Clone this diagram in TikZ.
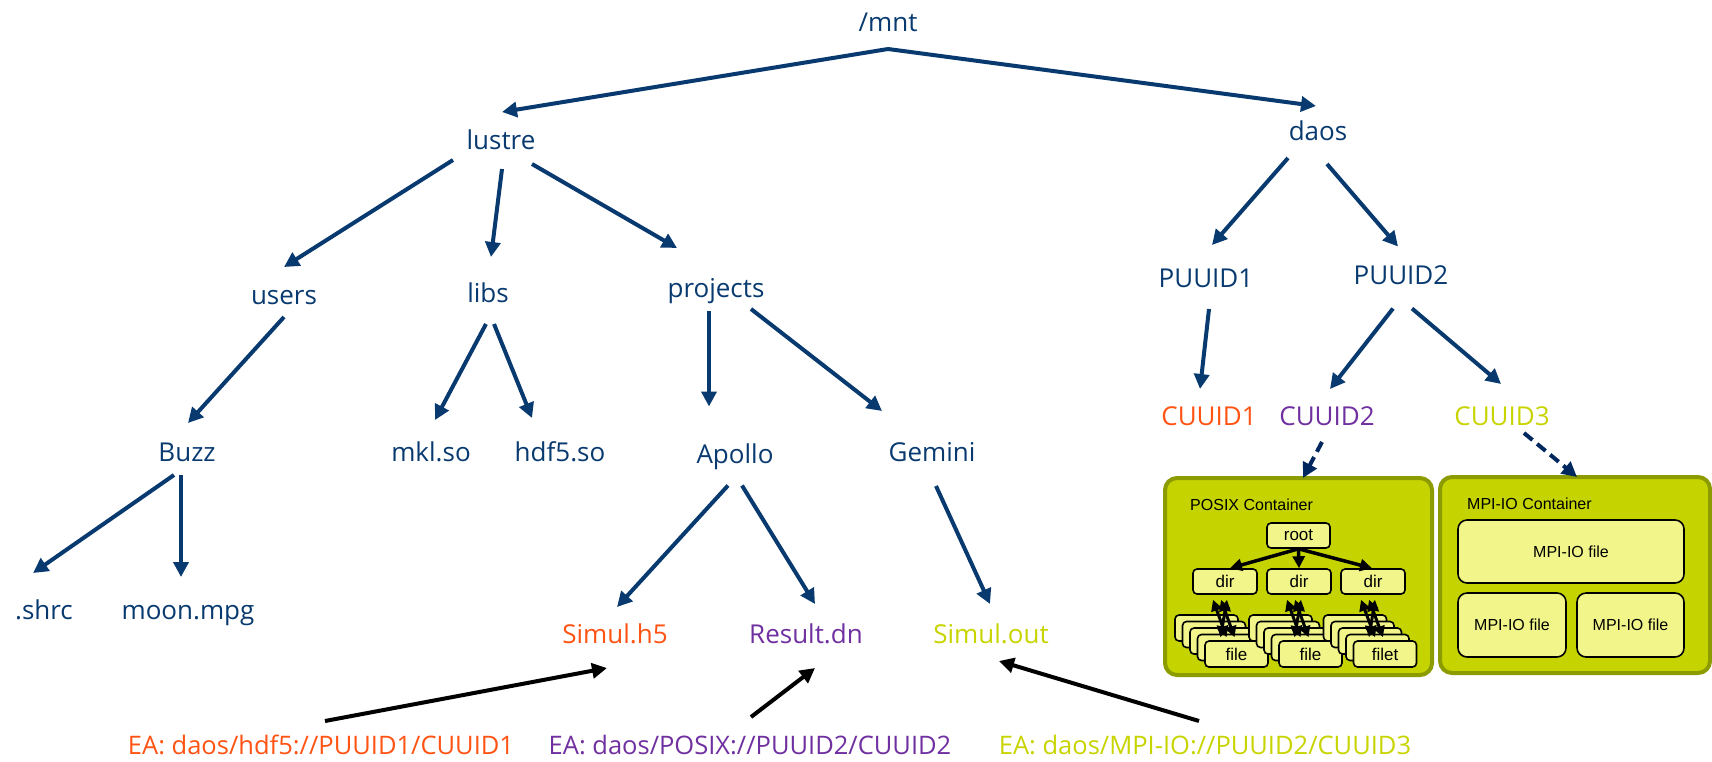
\documentclass[tikz,border=0pt]{standalone}
\usepackage{fontspec}
\setmainfont{Open Sans}
\newfontfamily\arialf{Liberation Sans}
\usetikzlibrary{arrows.meta}
\definecolor{dblue}{RGB}{8,58,112}
\definecolor{navy}{RGB}{0,40,95}
\definecolor{eaorange}{RGB}{255,84,20}
\definecolor{eapurple}{RGB}{112,48,160}
\definecolor{ealime}{RGB}{200,212,0}
\definecolor{cfill}{RGB}{197,212,0}
\definecolor{cborder}{RGB}{140,155,0}
\definecolor{boxfill}{RGB}{242,246,138}
\newcommand\lblfont{\fontsize{26}{30}\selectfont}
\newcommand\eafont{\fontsize{25.5}{29}\selectfont}
\tikzset{
  lbl/.style={font=\lblfont, text=dblue, anchor=base, inner sep=0pt},
  ealbl/.style={font=\eafont, anchor=base, inner sep=0pt},
  tarrow/.style={draw=dblue, line width=4pt, -{Triangle[length=15pt,width=15pt]}},
  darrow/.style={draw=navy, line width=4pt, dash pattern=on 11pt off 6pt, -{Triangle[length=15pt,width=15pt]}},
  barrow/.style={draw=black, line width=4pt, -{Triangle[length=15pt,width=15pt]}},
  container/.style={draw=cborder, fill=cfill, line width=4pt, rounded corners=12pt},
  ibox/.style={draw=black, fill=boxfill, line width=1.6pt, rounded corners=4pt, font=\arialf\fontsize{17}{20}\selectfont, inner sep=0pt},
  mbox/.style={draw=black, fill=boxfill, line width=1.6pt, rounded corners=9pt, font=\arialf\fontsize{16}{19}\selectfont, inner sep=0pt},
  clabel/.style={font=\arialf\fontsize{16}{19}\selectfont, anchor=base west, inner sep=0pt},
  sarrow/.style={draw=black, line width=3.5pt, -{Triangle[length=12pt,width=12pt]}},
  farrow/.style={draw=black, line width=3pt, {Triangle[length=11pt,width=11pt]}-{Triangle[length=11pt,width=11pt]}}
}
\begin{document}
\begin{tikzpicture}[x=1pt,y=-1pt]
\useasboundingbox (0,0) rectangle (1712,761);

% tree labels
\node[lbl] (mnt) at (888,31) {/mnt};
\node[lbl] (lustre) at (501,149) {lustre};
\node[lbl] (daos) at (1318,140) {daos};
\node[lbl] (users) at (284,304) {users};
\node[lbl] (libs) at (488,302) {libs};
\node[lbl] (projects) at (716,297) {projects};
\node[lbl] (puuid1) at (1206,287) {PUUID1};
\node[lbl] (puuid2) at (1401,284.5) {PUUID2};
\node[lbl] (buzz) at (187,461) {Buzz};
\node[lbl] (mkl) at (431,461) {mkl.so};
\node[lbl] (hdf5) at (560,461) {hdf5.so};
\node[lbl] (apollo) at (735,463.5) {Apollo};
\node[lbl] (gemini) at (932,461) {Gemini};
\node[lbl,text=eaorange] (cuuid1) at (1209,425) {CUUID1};
\node[lbl,text=eapurple] (cuuid2) at (1327,425) {CUUID2};
\node[lbl,text=ealime] (cuuid3) at (1502,425) {CUUID3};
\node[lbl] (shrc) at (44,619) {.shrc};
\node[lbl] (moon) at (188,619) {moon.mpg};
\node[lbl,text=eaorange] (simulh5) at (615,643) {Simul.h5};
\node[lbl,text=eapurple] (result) at (806,643) {Result.dn};
\node[lbl,text=ealime] (simulout) at (991,643) {Simul.out};

\node[ealbl,text=eaorange] (ea1) at (321,754) {EA: daos/hdf5://PUUID1/CUUID1};
\node[ealbl,text=eapurple] (ea2) at (750,754) {EA: daos/POSIX://PUUID2/CUUID2};
\node[ealbl,text=ealime] (ea3) at (1205,754) {EA: daos/MPI-IO://PUUID2/CUUID3};

% tree arrows
\draw[tarrow] ([shift={(0,18)}]mnt.base) -- ([shift={(1,-37)}]lustre.base);
\draw[tarrow] ([shift={(0,18)}]mnt.base) -- ([shift={(-2,-34)}]daos.base);
\draw[tarrow] ([shift={(-48,11)}]lustre.base) -- ([shift={(0,-37)}]users.base);
\draw[tarrow] ([shift={(1,20)}]lustre.base) -- ([shift={(3,-45)}]libs.base);
\draw[tarrow] ([shift={(31,15)}]lustre.base) -- ([shift={(-39,-49)}]projects.base);
\draw[tarrow] ([shift={(0,13)}]users.base) -- ([shift={(1,-38)}]buzz.base);
\draw[tarrow] ([shift={(-2,22)}]libs.base) -- ([shift={(4,-41)}]mkl.base);
\draw[tarrow] ([shift={(6,22)}]libs.base) -- ([shift={(-28,-43)}]hdf5.base);
\draw[tarrow] ([shift={(-7,14)}]projects.base) -- ([shift={(-26,-57)}]apollo.base);
\draw[tarrow] ([shift={(35,12)}]projects.base) -- ([shift={(-50,-50)}]gemini.base);
\draw[tarrow] ([shift={(-13,14)}]buzz.base) -- ([shift={(-11,-46)}]shrc.base);
\draw[tarrow] ([shift={(-6,14)}]buzz.base) -- ([shift={(-7,-42)}]moon.base);
\draw[tarrow] ([shift={(-7,22)}]apollo.base) -- ([shift={(2,-36)}]simulh5.base);
\draw[tarrow] ([shift={(7,22)}]apollo.base) -- ([shift={(9,-39)}]result.base);
\draw[tarrow] ([shift={(4,25)}]gemini.base) -- ([shift={(-1,-39)}]simulout.base);
\draw[tarrow] ([shift={(-30,18)}]daos.base) -- ([shift={(6,-42)}]puuid1.base);
\draw[tarrow] ([shift={(9,24)}]daos.base) -- ([shift={(-3,-38)}]puuid2.base);
\draw[tarrow] ([shift={(3,22)}]puuid1.base) -- ([shift={(-9,-36)}]cuuid1.base);
\draw[tarrow] ([shift={(-8,24)}]puuid2.base) -- ([shift={(3,-36)}]cuuid2.base);
\draw[tarrow] ([shift={(11,24)}]puuid2.base) -- ([shift={(-1,-41)}]cuuid3.base);

% EA arrows
\draw[barrow] ([shift={(4,-33)}]ea1.base) -- ([shift={(-8,25)}]simulh5.base);
\draw[barrow] ([shift={(1,-37)}]ea2.base) -- ([shift={(9,25)}]result.base);
\draw[barrow] ([shift={(-6,-33)}]ea3.base) -- ([shift={(8,18)}]simulout.base);

% containers
\path[container] (1165,478) rectangle (1432,675);
\coordinate (posixtop) at (1303,478);
\path[container] (1440,477) rectangle (1710,673);
\coordinate (mpitop) at (1577,477);
\draw[darrow] ([shift={(-5,17)}]cuuid2.base) -- (posixtop);
\draw[darrow] ([shift={(22,8)}]cuuid3.base) -- (mpitop);

% POSIX container content
\node[clabel] (posixlbl) at (1190,510) {POSIX Container};
\node[ibox, minimum width=63pt, minimum height=25pt] (root) at (1298.5,535.5) {root};
\node[ibox, minimum width=64pt, minimum height=25pt] (dirA) at (1225,581.5) {dir};
\node[ibox, minimum width=64pt, minimum height=25pt] (dirB) at (1299,581.5) {dir};
\node[ibox, minimum width=64pt, minimum height=25pt] (dirC) at (1373,581.5) {dir};
\draw[sarrow] (root.south) -- ([shift={(5,0)}]dirA.north);
\draw[sarrow] (root.south) -- (dirB.north);
\draw[sarrow] (root.south) -- ([shift={(-1,0)}]dirC.north);

\foreach \s/\cx/\t in {A/1236.5/file, B/1310.5/file, C/1385/filet}{
  \foreach \k in {4,3,2,1}{
    \node[ibox, minimum width=63pt, minimum height=26pt] (card\s\k) at ({\cx-7.5*\k},{654-6.5*\k}) {};
  }
  \node[ibox, minimum width=63pt, minimum height=26pt] (card\s0) at (\cx,654) {\t};
}
\foreach \s in {A,B,C}{
  \draw[farrow] ([shift={(-12,5)}]dir\s.south) -- ([shift={(-10,-3)}]card\s0.north);
  \draw[farrow] ([shift={(-4,5)}]dir\s.south) -- ([shift={(-2,-3)}]card\s0.north);
  \draw[farrow] ([shift={(2,5)}]dir\s.south) -- ([shift={(-16,-3)}]card\s0.north);
}

% MPI-IO container content
\node[clabel] (mpilbl) at (1467,509) {MPI-IO Container};
\node[mbox, minimum width=226pt, minimum height=63pt] (mpifile1) at (1571,551.5) {MPI-IO file};
\node[mbox, minimum width=108pt, minimum height=64pt] (mpifile2) at (1512,625) {MPI-IO file};
\node[mbox, minimum width=107pt, minimum height=64pt] (mpifile3) at (1630.5,625) {MPI-IO file};
\end{tikzpicture}
\end{document}
